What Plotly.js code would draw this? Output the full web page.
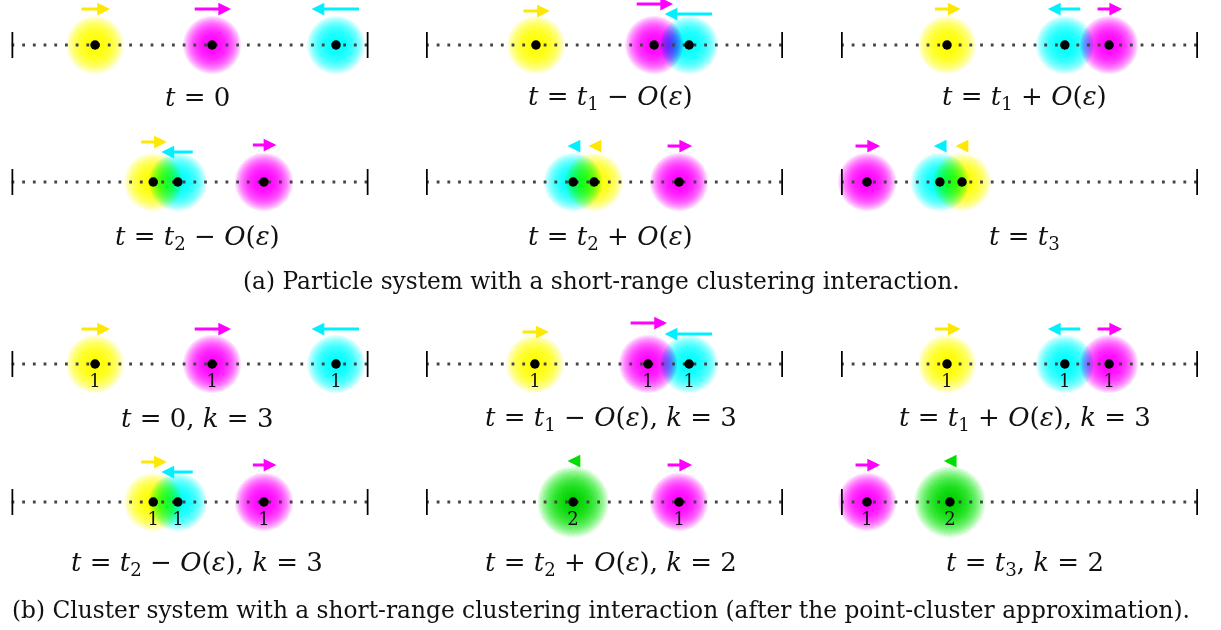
<!DOCTYPE html>
<html>
<head>
<meta charset="utf-8">
<script src="https://cdn.plot.ly/plotly-3.0.1.min.js"></script>
<style>
  html, body { margin: 0; padding: 0; background: #fff; }
  #chart { width: 1221px; height: 630px; }
  /* soft halos combine subtractively, like overlapping ink */
  .js-plotly-plot path.point[style*="url"] { mix-blend-mode: multiply; }
</style>
</head>
<body>
<div id="chart"></div>
<script>
// ---- (a) particle system: one entry per particle, panels 0..5 ----
const aPanel = [0, 0, 0, 1, 1, 1, 2, 2, 2, 3, 3, 3, 4, 4, 4, 5, 5, 5];
const aSpecies = ['Y', 'M', 'C', 'Y', 'M', 'C', 'Y', 'C', 'M', 'Y', 'C', 'M', 'C', 'Y', 'M', 'M', 'C', 'Y'];
const aPos = [0.234, 0.562, 0.909, 0.308, 0.639, 0.737, 0.297, 0.627, 0.751, 0.397, 0.466, 0.707, 0.412, 0.471, 0.709, 0.073, 0.277, 0.339];
const aVel = [0.084, 0.106, -0.137, 0.078, 0.106, -0.137, 0.076, -0.095, 0.073, 0.076, -0.092, 0.070, -0.031, -0.031, 0.073, 0.073, -0.034, -0.036];

// ---- (b) cluster system: one entry per cluster, panels 6..11 ----
const bPanel = [6, 6, 6, 7, 7, 7, 8, 8, 8, 9, 9, 9, 10, 10, 11, 11];
const bSpecies = ['Y', 'M', 'C', 'Y', 'M', 'C', 'Y', 'C', 'M', 'Y', 'C', 'M', 'G', 'M', 'M', 'G'];
const bPos = [0.234, 0.562, 0.909, 0.305, 0.622, 0.737, 0.297, 0.627, 0.751, 0.397, 0.466, 0.707, 0.412, 0.709, 0.073, 0.305];
const bMass = [1, 1, 1, 1, 1, 1, 1, 1, 1, 1, 1, 1, 2, 1, 1, 2];
const bVel = [0.084, 0.106, -0.137, 0.078, 0.106, -0.137, 0.076, -0.095, 0.073, 0.076, -0.092, 0.070, -0.031, 0.073, 0.073, -0.034];

// ---- text ----
const panelLabels = [
  '<i>t</i> = 0',
  '<i>t</i> = <i>t</i><sub>1</sub> − <i>O</i>(<i>ε</i>)',
  '<i>t</i> = <i>t</i><sub>1</sub> + <i>O</i>(<i>ε</i>)',
  '<i>t</i> = <i>t</i><sub>2</sub> − <i>O</i>(<i>ε</i>)',
  '<i>t</i> = <i>t</i><sub>2</sub> + <i>O</i>(<i>ε</i>)',
  '<i>t</i> = <i>t</i><sub>3</sub>',
  '<i>t</i> = 0, <i>k</i> = 3',
  '<i>t</i> = <i>t</i><sub>1</sub> − <i>O</i>(<i>ε</i>), <i>k</i> = 3',
  '<i>t</i> = <i>t</i><sub>1</sub> + <i>O</i>(<i>ε</i>), <i>k</i> = 3',
  '<i>t</i> = <i>t</i><sub>2</sub> − <i>O</i>(<i>ε</i>), <i>k</i> = 3',
  '<i>t</i> = <i>t</i><sub>2</sub> + <i>O</i>(<i>ε</i>), <i>k</i> = 2',
  '<i>t</i> = <i>t</i><sub>3</sub>, <i>k</i> = 2'
];
const captions = [
  '(a) Particle system with a short-range clustering interaction.',
  '(b) Cluster system with a short-range clustering interaction (after the point-cluster approximation).'
];

// ---- styling / layout ----
const W = 1221, H = 630;
const FONT = 'DejaVu Serif, Liberation Serif, serif';
const colLeft = [11.5, 426, 841];   // px position of each column's left end mark
const segLen = 357;                  // px length of each interval
const rowLine = [45, 182, 364, 502]; // px height of each row's interval
const halfH = 45;                    // y-axis half span, 1 unit = 1 px
const labelX = [0.52, 0.518, 0.515];
const labelY = [97, 237, 418, 563];
const captionY = [280, 609];
const countOffset = -18;
const aLift = [36, 36, 36, 34, 41, 31, 36, 36, 36, 40, 30, 37, 36, 36, 36, 36, 36, 36];
const bLift = [35, 35, 35, 32, 41, 30, 35, 35, 35, 40, 30, 37, 41, 37, 37, 41];
const rgb = { Y: [255, 255, 0], M: [255, 0, 255], C: [0, 255, 255], G: [0, 235, 0] };
const arrowColor = { Y: '#ffe800', M: '#ff00ff', C: '#00f0ff', G: '#00dd00' };
const haloSize = { 1: 59, 2: 72 };
const haloLayers = 4;

const rgba = (s, a) => 'rgba(' + rgb[s].join(',') + ',' + a + ')';
const axId = p => (p === 0 ? '' : String(p + 1));

const layout = {
  width: W, height: H,
  margin: { l: 0, r: 0, t: 0, b: 0 },
  paper_bgcolor: '#ffffff', plot_bgcolor: 'rgba(0,0,0,0)',
  showlegend: false, hovermode: false,
  shapes: [], annotations: []
};

// one subplot per panel; the interval spans [0, 1] on its x-axis
for (let p = 0; p < 12; p++) {
  const row = Math.floor(p / 3), col = p % 3;
  const x0 = colLeft[col] / W, x1 = (colLeft[col] + segLen) / W;
  const yc = rowLine[row];
  const y0 = (H - yc - halfH) / H, y1 = (H - yc + halfH) / H;
  const id = axId(p);
  layout['xaxis' + id] = { domain: [x0, x1], range: [0, 1], visible: false, fixedrange: true, anchor: 'y' + id };
  layout['yaxis' + id] = { domain: [y0, y1], range: [-halfH, halfH], visible: false, fixedrange: true, anchor: 'x' + id };
  // end marks of the interval
  [0, 1].forEach(xe => layout.shapes.push({
    type: 'line', xref: 'x' + id, yref: 'y' + id, x0: xe, x1: xe, y0: -13, y1: 13,
    line: { color: '#000', width: 3.5 }
  }));
  layout.annotations.push({
    xref: 'x' + id + ' domain', yref: 'paper', x: labelX[col], y: 1 - labelY[row] / H,
    xanchor: 'center', yanchor: 'middle', showarrow: false, text: panelLabels[p],
    font: { family: FONT, size: 26, color: '#111' }
  });
}
captions.forEach((c, i) => layout.annotations.push({
  xref: 'paper', yref: 'paper', x: 601 / W, y: 1 - captionY[i] / H,
  xanchor: 'center', yanchor: 'middle', showarrow: false, text: c,
  font: { family: FONT, size: 23.3, color: '#111' }
}));

const traces = [];
function addPanels(panel, species, pos, vel, lift, mass) {
  for (let p = 0; p < 12; p++) {
    const idx = panel.map((q, i) => (q === p ? i : -1)).filter(i => i >= 0);
    if (!idx.length) continue;
    const id = axId(p);
    const xs = idx.map(i => pos[i]);
    const sizes = idx.map(i => haloSize[mass ? mass[i] : 1]);
    // halos, layered so the colour stays full near the centre
    for (let k = 0; k < haloLayers; k++) {
      traces.push({
        type: 'scatter', mode: 'markers', xaxis: 'x' + id, yaxis: 'y' + id, cliponaxis: false,
        x: xs, y: idx.map(() => 0),
        marker: {
          size: sizes, color: idx.map(i => rgba(species[i], 0)), line: { width: 0 },
          gradient: { type: 'radial', color: idx.map(i => rgba(species[i], 1)) }
        }
      });
    }
    // dotted interval
    traces.push({
      type: 'scatter', mode: 'lines', xaxis: 'x' + id, yaxis: 'y' + id, cliponaxis: false,
      x: [0, 1], y: [0, 0], line: { color: '#444', width: 2.8, dash: '2.8px,7.9px' }
    });
    // particle / cluster centres
    traces.push({
      type: 'scatter', mode: 'markers', xaxis: 'x' + id, yaxis: 'y' + id, cliponaxis: false,
      x: xs, y: idx.map(() => 0), marker: { size: 9.5, color: '#000', line: { width: 0 } }
    });
    if (mass) {
      traces.push({
        type: 'scatter', mode: 'text', xaxis: 'x' + id, yaxis: 'y' + id, cliponaxis: false,
        x: xs, y: idx.map(() => countOffset), text: idx.map(i => String(mass[i])),
        textposition: 'middle center', textfont: { family: FONT, size: 18, color: '#111' }
      });
    }
    // velocity arrows, centred over each particle
    idx.forEach(i => layout.annotations.push({
      xref: 'x' + id, yref: 'y' + id, axref: 'x' + id, ayref: 'y' + id,
      x: pos[i] + vel[i] / 2, ax: pos[i] - vel[i] / 2, y: lift[i], ay: lift[i],
      text: '', showarrow: true, arrowhead: 2, arrowsize: 0.85, arrowwidth: 3,
      arrowcolor: arrowColor[species[i]], standoff: 0, startstandoff: 0
    }));
  }
}
addPanels(aPanel, aSpecies, aPos, aVel, aLift, null);
addPanels(bPanel, bSpecies, bPos, bVel, bLift, bMass);

Plotly.newPlot('chart', traces, layout, { staticPlot: true, displayModeBar: false });
</script>
</body>
</html>
